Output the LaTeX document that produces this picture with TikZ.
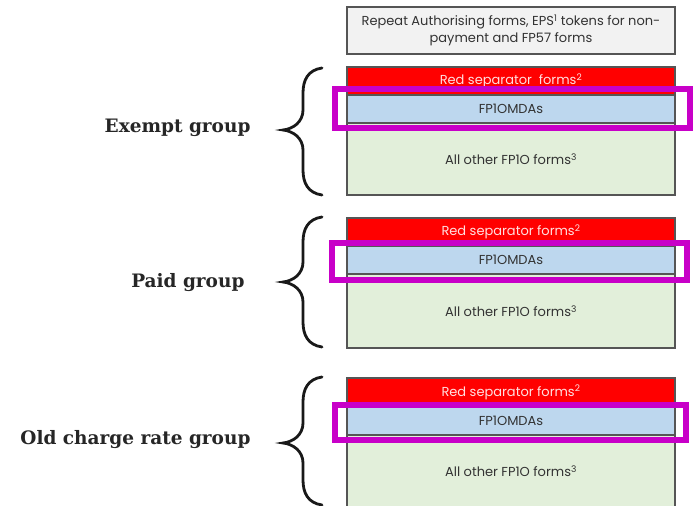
\documentclass[tikz,border=0pt]{standalone}
\usepackage{fontspec}
\setmainfont{Poppins}
\newfontfamily\slabfont{DejaVu Serif}
\definecolor{sepred}{HTML}{FF0000}
\definecolor{mdablue}{HTML}{BDD7EE}
\definecolor{othgreen}{HTML}{E2EFDA}
\definecolor{topgray}{HTML}{F2F2F2}
\definecolor{edgegray}{HTML}{555555}
\definecolor{txtgray}{HTML}{333333}
\definecolor{hilite}{HTML}{C800C8}
\tikzset{
  formbox/.style={draw=edgegray, line width=1.2pt, rectangle, minimum width=328pt,
    inner sep=0pt, font=\fontsize{13}{17}\selectfont, text=txtgray},
  redbox/.style={formbox, fill=sepred, text=white!88!red},
  bluebox/.style={formbox, fill=mdablue},
  greenbox/.style={formbox, fill=othgreen},
  hibox/.style={draw=hilite, line width=6pt},
  grouplabel/.style={anchor=east, font=\slabfont\bfseries\fontsize{18.5}{22}\selectfont, text=black!85},
  bracestroke/.style={line width=2.8pt, black!90, line cap=round}
}
\newcommand\groupbrace[3]{%
  \draw[bracestroke] (322,#1) .. controls (308,#1+2) and (303,#1+12) .. (303,#1+25)
    -- (303,#2-20) .. controls (303,#2-8) and (293,#2-1) .. (283,#2)
    .. controls (293,#2+1) and (303,#2+8) .. (303,#2+20)
    -- (303,#3-25) .. controls (303,#3-12) and (308,#3-2) .. (322,#3);}
\begin{document}
\begin{tikzpicture}[x=1pt,y=-1pt]
\useasboundingbox[fill=white] (0,0) rectangle (699,506);
% top box
\node[formbox, fill=topgray, minimum height=47pt, align=center] (top) at (511,30.5)
  {Repeat Authorising forms, EPS\textsuperscript{1} tokens for non-\\payment and FP57 forms};
% group 1
\node[redbox, minimum height=28pt] (r1) at (511,81) {Red separator\ \ forms\textsuperscript{2}};
\node[bluebox, minimum height=28pt] (b1) at (511,109) {FP1OMDAs};
\node[greenbox, minimum height=72pt] (g1) at (511,159) {All other FP1O forms\textsuperscript{3}};
% group 2
\node[redbox, minimum height=28pt] (r2) at (511,232) {Red separator forms\textsuperscript{2}};
\node[bluebox, minimum height=28pt] (b2) at (511,260) {FP1OMDAs};
\node[greenbox, minimum height=74pt] (g2) at (511,311) {All other FP1O forms\textsuperscript{3}};
% group 3
\node[redbox, minimum height=29pt] (r3) at (511,392.5) {Red separator forms\textsuperscript{2}};
\node[bluebox, minimum height=28pt] (b3) at (511,421) {FP1OMDAs};
\node[greenbox, minimum height=72pt] (g3) at (511,471) {All other FP1O forms\textsuperscript{3}};
% highlights
\draw[hibox] (335,89) rectangle (690,128);
\draw[hibox] (332,243) rectangle (687,280);
\draw[hibox] (335,404.5) rectangle (685.5,439.5);
% braces
\groupbrace{68}{130}{195}
\groupbrace{217}{282}{347}
\groupbrace{377}{443}{505}
% labels
\node[grouplabel] (l1) at (254,128) {Exempt group};
\node[grouplabel] (l2) at (248,283) {Paid group};
\node[grouplabel] (l3) at (254,440) {Old charge rate group};
\end{tikzpicture}
\end{document}
